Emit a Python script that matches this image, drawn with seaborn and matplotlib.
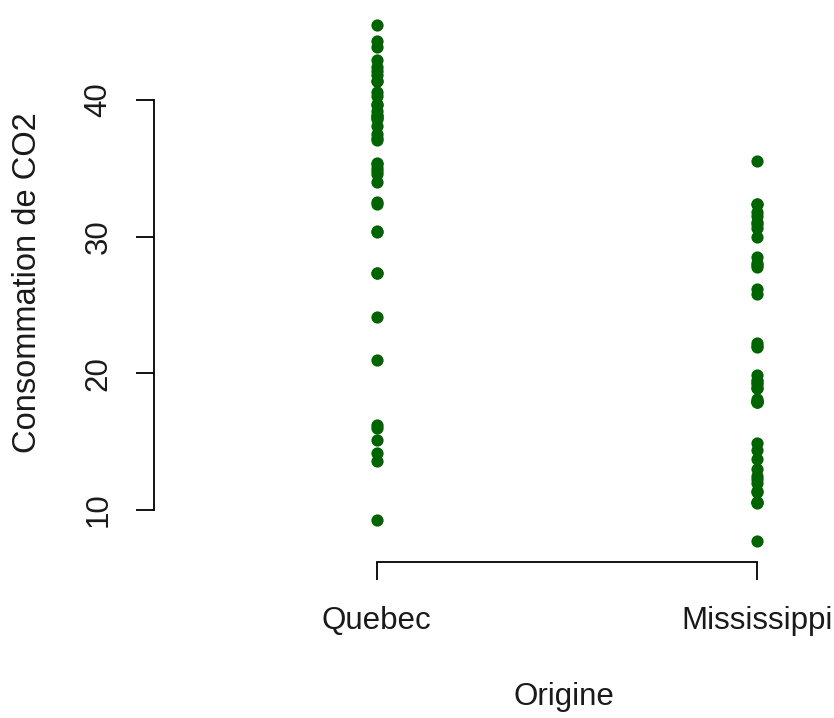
import matplotlib
matplotlib.use("Agg")
import matplotlib.pyplot as plt
import seaborn as sns
import pandas as pd

quebec = [16.0, 30.4, 34.8, 37.2, 35.3, 39.2, 39.7,
          13.6, 27.3, 37.1, 41.8, 40.6, 41.4, 44.3,
          16.2, 32.4, 40.3, 42.1, 42.9, 43.9, 45.5,
          14.2, 24.1, 30.3, 34.6, 32.5, 35.4, 38.7,
          15.1, 21.0, 38.1, 34.0, 38.9, 39.6, 41.4,
          9.3, 27.3, 35.0, 38.8, 38.6, 37.5, 42.4]
mississippi = [11.3, 19.4, 25.8, 27.9, 28.5, 28.1, 27.8,
               12.0, 22.0, 30.6, 31.8, 32.4, 31.1, 31.5,
               10.6, 19.2, 26.2, 30.0, 30.9, 32.4, 35.5,
               7.7, 11.4, 12.3, 13.0, 12.5, 13.7, 14.4,
               10.6, 18.0, 17.9, 17.9, 17.9, 18.9, 19.9,
               10.5, 14.9, 18.1, 18.9, 19.5, 22.2, 21.9]
categories = ["Quebec", "Mississippi"]
yticks = [10, 20, 30, 40]

df = pd.DataFrame({
    "Origine": ["Quebec"] * len(quebec) + ["Mississippi"] * len(mississippi),
    "uptake": quebec + mississippi,
})

sns.set_style("white")
plt.rcParams["font.family"] = ["Liberation Sans", "DejaVu Sans"]

W, H = 834, 718
fig = plt.figure(figsize=(W / 100, H / 100), dpi=100)
left_px, top_px, bottom_px = 154, 4, 562
unit_px = 380.0
xl = (-(376.7 - left_px) / unit_px, 1 + 0.586)
width_px = (xl[1] - xl[0]) * unit_px
ax = fig.add_axes([left_px / W, 1 - bottom_px / H, width_px / W, (bottom_px - top_px) / H])

sns.stripplot(data=df, x="Origine", y="uptake", order=categories, jitter=False,
              color="#006400", size=8.8, linewidth=0, ax=ax)

ax.set_xlim(*xl)
ax.set_ylim(6.2, 47.01)
ax.set_yticks(yticks)
ax.set_yticklabels([str(t) for t in yticks], rotation=90, va="center")
ax.set_xticks([0, 1])
ax.set_xticklabels(categories)
for s in ["top", "right"]:
    ax.spines[s].set_visible(False)
ax.spines["left"].set_bounds(10, 40)
ax.spines["bottom"].set_bounds(0, 1)
for s in ["left", "bottom"]:
    ax.spines[s].set_linewidth(1.3)
    ax.spines[s].set_color("black")
ax.tick_params(axis="both", direction="out", length=13, width=1.3, color="black",
               labelsize=22.5, labelcolor="#1a1a1a", left=True, bottom=True)
ax.tick_params(axis="y", pad=16)
ax.tick_params(axis="x", pad=19)
ax.set_xlabel("")
ax.set_ylabel("")
ax.set_facecolor("white")

fig.text(28 / W, 1 - 283 / H, "Consommation de CO2", rotation=90, ha="center", va="center",
         fontsize=23.5, color="#1a1a1a")
fig.text(564 / W, 1 - 697 / H, "Origine", ha="center", va="center", fontsize=22.5, color="#1a1a1a")

fig.savefig("out.png", dpi=100, facecolor="white")
